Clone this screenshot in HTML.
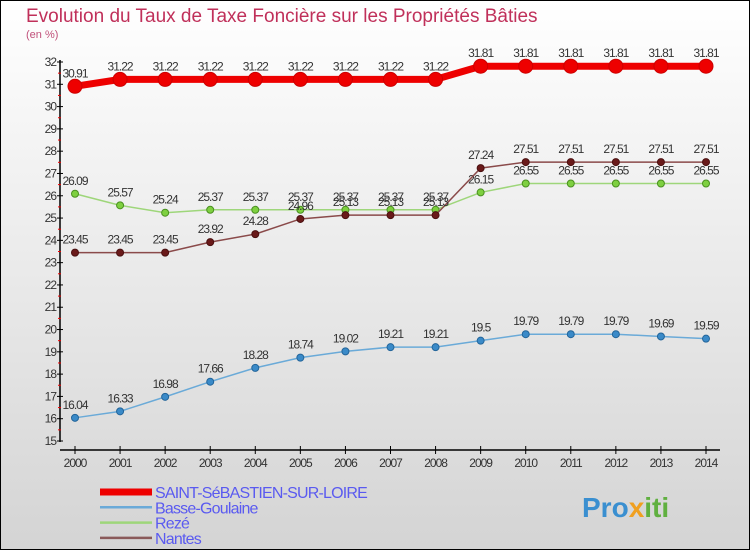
<!DOCTYPE html>
<html><head><meta charset="utf-8"><style>
body{margin:0}
svg{display:block;font-family:"Liberation Sans","DejaVu Sans",sans-serif}
</style></head><body>
<svg width="750" height="550" viewBox="0 0 750 550">
<defs><linearGradient id="bg" x1="0" y1="0" x2="0" y2="1"><stop offset="0" stop-color="#ffffff"/><stop offset="1" stop-color="#d4d4d4"/></linearGradient></defs>
<rect x="0.5" y="0.5" width="749" height="549" fill="url(#bg)" stroke="#000"/>
<text x="26" y="22" font-size="19" fill="#c0305a">Evolution du Taux de Taxe Foncière sur les Propriétés Bâties</text>
<text x="26" y="38" font-size="11" fill="#c0507a">(en %)</text>
<g id="axes"></g>
<g id="series"></g>
<g id="legend"></g>
<text x="582" y="517" font-size="28" font-weight="bold" fill="#3a8fd0">Pro<tspan fill="#f0a020">x</tspan><tspan fill="#60b040">iti</tspan></text>
</svg>
<script>
const years=[2000,2001,2002,2003,2004,2005,2006,2007,2008,2009,2010,2011,2012,2013,2014];
const yTicks=[15,16,17,18,19,20,21,22,23,24,25,26,27,28,29,30,31,32];
const stSebastien=[30.91,31.22,31.22,31.22,31.22,31.22,31.22,31.22,31.22,31.81,31.81,31.81,31.81,31.81,31.81];
const basseGoulaine=[16.04,16.33,16.98,17.66,18.28,18.74,19.02,19.21,19.21,19.5,19.79,19.79,19.79,19.69,19.59];
const reze=[26.09,25.57,25.24,25.37,25.37,25.37,25.37,25.37,25.37,26.15,26.55,26.55,26.55,26.55,26.55];
const nantes=[23.45,23.45,23.45,23.92,24.28,24.96,25.13,25.13,25.13,27.24,27.51,27.51,27.51,27.51,27.51];
const NS='http://www.w3.org/2000/svg';
const xs=i=>75+i*(706-75)/14;
const ys=v=>441-(v-15)*(441-62)/17;
function mk(t,a,p){const e=document.createElementNS(NS,t);for(const k in a)e.setAttribute(k,a[k]);p.appendChild(e);return e;}
const ax=document.getElementById('axes');
let l=mk('line',{x1:60,y1:60,x2:60,y2:442,stroke:'#000','stroke-width':1.5},ax);


l=mk('line',{x1:60,y1:450,x2:720,y2:450,stroke:'#000','stroke-width':1.5},ax);


yTicks.forEach(v=>{const y=ys(v);
 mk('line',{x1:57,y1:y,x2:63,y2:y,stroke:'#000'},ax);
 if(v<32)mk('line',{x1:58,y1:y-11.15,x2:61,y2:y-11.15,stroke:'#e00'},ax);
 const t=mk('text',{x:56,y:y+4,'font-size':12,'text-anchor':'end',fill:'#333','letter-spacing':'-1'},ax);t.textContent=v;
 
 });
years.forEach((yr,i)=>{const x=xs(i);
 mk('line',{x1:x,y1:446,x2:x,y2:454,stroke:'#000'},ax);
 const t=mk('text',{x:x,y:467,'font-size':12,'text-anchor':'middle',fill:'#333','letter-spacing':'-1'},ax);t.textContent=yr;
 
 });
const sg=document.getElementById('series');
const defs=[
 {name:'st-sebastien',data:stSebastien,color:'#ee0000',w:7,r:7,stroke:'#cc0000'},
 {name:'basse-goulaine',data:basseGoulaine,color:'#6aaad8',w:1.5,r:3.5,fill:'#3a8ac8',stroke:'#23659a'},
 {name:'reze',data:reze,color:'#9ed67a',w:1.5,r:3.5,fill:'#7ed040',stroke:'#4a9020'},
 {name:'nantes',data:nantes,color:'#8a4a4a',w:1.5,r:3.5,fill:'#6a1a1a',stroke:'#4a1010'}];
defs.forEach(s=>{const g=mk('g',{},sg);
 
 
 const p=mk('polyline',{points:s.data.map((v,i)=>xs(i)+','+ys(v)).join(' '),fill:'none',stroke:s.color,'stroke-width':s.w},g);
 
 
 s.data.forEach((v,i)=>{const c=mk('circle',{cx:xs(i),cy:ys(v),r:s.r,fill:s.fill||s.color,stroke:s.stroke,'stroke-width':1},g);
  
  
  const t=mk('text',{x:xs(i),y:ys(v)-9,'font-size':12,'text-anchor':'middle',fill:'#333','letter-spacing':'-1'},g);t.textContent=v;
  
  });});
const lg=document.getElementById('legend');
const leg=[['SAINT-SéBASTIEN-SUR-LOIRE','#ee0000',7],['Basse-Goulaine','#6aaad8',2.5],['Rezé','#9ed67a',2.5],['Nantes','#8a5a5a',2.5]];
leg.forEach((e,i)=>{const y=492+i*15.3;const g=mk('g',{},lg);
 
 
 mk('line',{x1:100,y1:y,x2:152,y2:y,stroke:e[1],'stroke-width':e[2]},g);
 const t=mk('text',{x:155,y:y+6,'font-size':16,fill:'#5a5af0','letter-spacing':'-0.8'},g);t.textContent=e[0];});
</script>
</body></html>
